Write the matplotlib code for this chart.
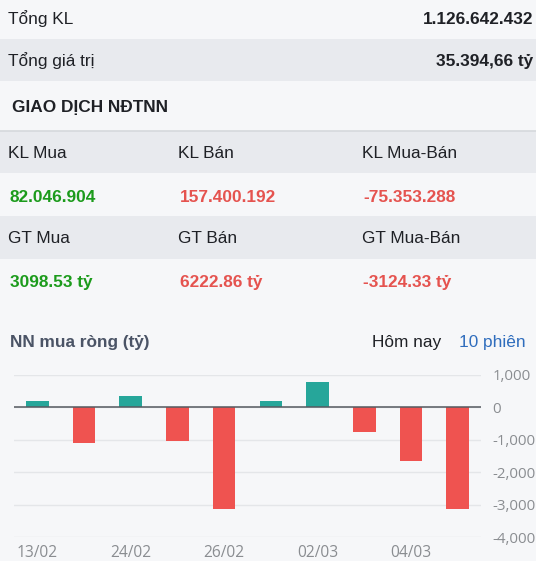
import matplotlib
matplotlib.use("Agg")
import matplotlib.pyplot as plt
from matplotlib.patches import Rectangle

# ---- data ----
summary_labels = ["Tổng KL", "Tổng giá trị"]
summary_values = ["1.126.642.432", "35.394,66 tỷ"]

kl_labels = ["KL Mua", "KL Bán", "KL Mua-Bán"]
kl_values = ["82.046.904", "157.400.192", "-75.353.288"]
gt_labels = ["GT Mua", "GT Bán", "GT Mua-Bán"]
gt_values = ["3098.53 tỷ", "6222.86 tỷ", "-3124.33 tỷ"]

net_buy = [205, -1087, 338, -1046, -3128, 195, 780, -759, -1662, -3124]  # ty VND
date_labels = ["13/02", "24/02", "26/02", "02/03", "04/03"]  # every 2nd session
y_ticks = [1000, 0, -1000, -2000, -3000, -4000]

# ---- style ----
W, H = 536, 561
LIGHT = "#f6f7f9"
GRAY = "#e8eaee"
DARK = "#1f2126"
GREEN = "#1c9b1c"
RED = "#e5534f"
BAR_UP = "#26a69a"
BAR_DN = "#ef5350"
FONT = ["Liberation Sans", "DejaVu Sans"]
FS = 12.4

fig = plt.figure(figsize=(W / 100, H / 100), dpi=100)
fig.patch.set_facecolor(LIGHT)


def fx(x):
    return x / W


def fy(y):
    return 1 - y / H


def band(y0, y1, color):
    fig.patches.append(Rectangle((0, fy(y1)), 1, (y1 - y0) / H, transform=fig.transFigure,
                                 facecolor=color, edgecolor="none", zorder=0))


def txt(x, y, s, **kw):
    kw.setdefault("family", FONT)
    kw.setdefault("fontsize", FS)
    kw.setdefault("color", DARK)
    fig.text(fx(x), fy(y), s, va="baseline", **kw)


# row backgrounds
band(39, 81, GRAY)
band(131, 173, GRAY)
band(216, 259, GRAY)
fig.lines.append(plt.Line2D([0, 1], [fy(130.5), fy(130.5)], transform=fig.transFigure,
                            color="#d5d8dc", lw=1.2))

# summary rows
for lab, val, yb in zip(summary_labels, summary_values, [24, 66]):
    txt(7.5, yb, lab)
    txt(533, yb, val, ha="right", fontweight="bold")

txt(11.5, 112.3, "GIAO DỊCH NĐTNN", fontweight="bold")

col_lab_x = [7.5, 177.5, 362]
col_val_x = [10, 180, 363.5]
val_colors = [GREEN, RED, RED]
for i in range(3):
    txt(col_lab_x[i], 158.3, kl_labels[i])
    txt(col_val_x[i], 201.5, kl_values[i], color=val_colors[i], fontweight="bold")
    txt(col_lab_x[i], 243.3, gt_labels[i])
    txt(col_val_x[i], 286.5, gt_values[i], color=val_colors[i], fontweight="bold")

# chart header
txt(10, 346.7, "NN mua ròng (tỷ)", color="#4b5466", fontweight="bold")
txt(372, 347.3, "Hôm nay")
txt(459, 347.3, "10 phiên", color="#2f6dbd")

# ---- bar chart ----
ax_top, ax_bot, ax_l, ax_r = 375, 537.3, 14, 481
ax = fig.add_axes([fx(ax_l), fy(ax_bot), (ax_r - ax_l) / W, (ax_bot - ax_top) / H])
ax.set_facecolor("none")

x = list(range(len(net_buy)))
colors = [BAR_UP if v >= 0 else BAR_DN for v in net_buy]
ax.bar(x, net_buy, width=0.486, color=colors, zorder=3)
ax.axhline(0, color="#555a60", lw=1.1, zorder=4)

ax.set_xlim(-0.5, len(net_buy) - 0.5)
ax.set_ylim(-4000, 1000)
ax.set_yticks(y_ticks)
ax.set_yticklabels([f"{v:,}" for v in y_ticks])
ax.yaxis.tick_right()
ax.grid(axis="y", color="#e4e6e9", lw=1, zorder=0)
ax.set_xticks(x[::2])
ax.set_xticklabels(date_labels)
ax.tick_params(axis="y", length=0, pad=8, labelsize=10.8, labelcolor="#8a8d91")
ax.tick_params(axis="x", length=0, pad=5.5, labelsize=11.2, labelcolor="#8a8d91")
for lab in ax.get_xticklabels() + ax.get_yticklabels():
    lab.set_family(["Open Sans", "DejaVu Sans"])
for sp in ax.spines.values():
    sp.set_visible(False)

fig.savefig("out.png", dpi=100, facecolor=fig.get_facecolor())
